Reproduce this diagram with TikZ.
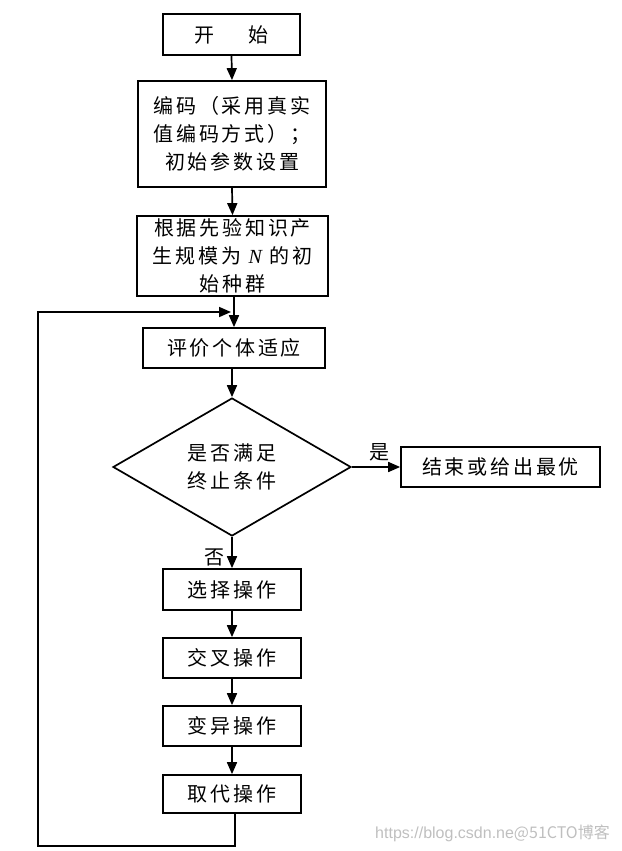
\documentclass[tikz,border=0pt]{standalone}
\usepackage{fontspec}
\setmainfont{Liberation Serif}
\newfontfamily\cjk[LetterSpace=14]{Noto Sans CJK SC}
\newfontfamily\cjkwm{Noto Sans CJK SC}
\newfontfamily\wmfont{Liberation Sans}
\usetikzlibrary{arrows.meta,shapes.geometric}
\begin{document}
\begin{tikzpicture}[x=1pt,y=-1pt,
  box/.style={draw, line width=1.7pt, inner sep=0pt, align=center,
    font=\cjk\fontsize{20}{28}\selectfont},
  dia/.style={draw, diamond, line width=1.7pt, inner sep=0pt, align=center,
    font=\cjk\fontsize{20}{28}\selectfont},
  arr/.style={-{Triangle[length=12pt,width=10pt]}, line width=1.7pt},
  lbl/.style={font=\cjk\fontsize{20}{24}\selectfont, inner sep=0pt},
  wm/.style={inner sep=0pt, text=black!25, font=\wmfont\fontsize{16}{20}\selectfont}]
\useasboundingbox (0,0) rectangle (621,851);
\node[box, minimum width=137pt, minimum height=41pt] (start) at (231.5,34.5) {开\hspace{34pt}始};
\node[box, minimum width=188pt, minimum height=106pt] (enc) at (232,134) {编码（采用真实\\值编码方式）；\\初始参数设置};
\node[box, minimum width=191pt, minimum height=80pt] (init) at (232.5,256) {根据先验知识产\\生规模为 {\rmfamily\itshape N} 的初\\始种群};
\node[box, minimum width=182pt, minimum height=40pt] (eval) at (234,348) {评价个体适应};
\node[dia, minimum width=238pt, minimum height=138pt] (cond) at (232,467) {是否满足\\终止条件};
\node[box, minimum width=199pt, minimum height=40pt] (fin) at (500.5,467) {结束或给出最优};
\node[box, minimum width=138pt, minimum height=41pt] (sel) at (232,589.5) {选择操作};
\node[box, minimum width=138pt, minimum height=40pt] (cro) at (232,658) {交叉操作};
\node[box, minimum width=138pt, minimum height=40pt] (mut) at (232,726) {变异操作};
\node[box, minimum width=138pt, minimum height=38pt] (rep) at (232,794) {取代操作};
\node[lbl] (yes) at (379,452) {是};
\node[lbl] (no) at (214,557) {否};
\coordinate (lb) at (38,846);
\coordinate (lt) at (38,312);
\coordinate (lin) at (231,312);
\draw[arr] (start.south) -- (enc.north);
\draw[arr] (enc.south) -- (init.north);
\draw[arr] (init.south -| eval.north) -- (eval.north);
\draw[arr] (eval.south -| cond.north) -- (cond.north);
\draw[arr] (cond.east) -- (fin.west);
\draw[arr] (cond.south) -- (sel.north);
\draw[arr] (sel.south) -- (cro.north);
\draw[arr] (cro.south) -- (mut.north);
\draw[arr] (mut.south) -- (rep.north);
\draw[arr] ([xshift=3pt]rep.south) |- (lb) -- (lt) -- (lin);
\node[wm, anchor=east] (wm) at (610,833) {https://blog.csdn.ne{\cjkwm @51CTO博客}};
\end{tikzpicture}
\end{document}
